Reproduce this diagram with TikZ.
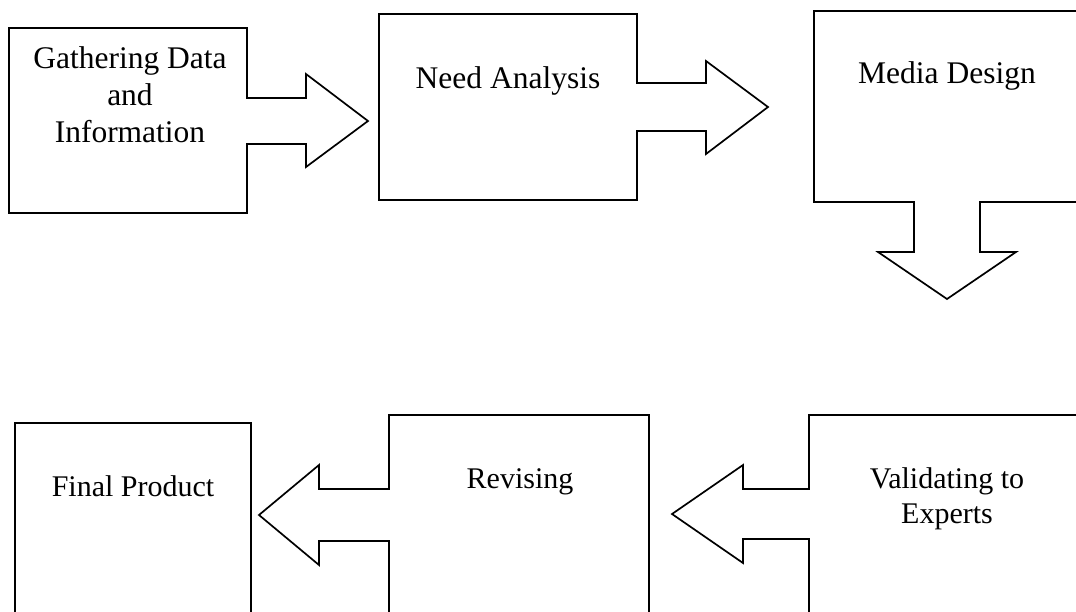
\documentclass[tikz,border=0pt]{standalone}
\usepackage{fontspec}
\setmainfont{Liberation Serif}
\begin{document}
\begin{tikzpicture}[x=1pt,y=-1pt,
  shapeline/.style={draw=black,line width=1.7pt,line join=miter},
  toptext/.style={font=\fontsize{31.5}{37}\selectfont,align=center,inner sep=0pt,anchor=base},
  bottext/.style={font=\fontsize{30}{35}\selectfont,align=center,inner sep=0pt,anchor=base}]
\useasboundingbox (0,0) rectangle (1076,611);
\clip (0,0) rectangle (1076,611);
% Gathering Data and Information (right arrow callout)
\draw[shapeline] (9,28) -- (247,28) -- (247,98) -- (306,98) -- (306,74) -- (368,121)
  -- (306,167) -- (306,144) -- (247,144) -- (247,213) -- (9,213) -- cycle;
% Need Analysis (right arrow callout)
\draw[shapeline] (379,14) -- (637,14) -- (637,83) -- (706,83) -- (706,61) -- (768,107)
  -- (706,154) -- (706,131) -- (637,131) -- (637,200) -- (379,200) -- cycle;
% Media Design (down arrow callout)
\draw[shapeline] (814,11) -- (1085,11) -- (1085,202) -- (980,202) -- (980,252) -- (1016,252)
  -- (947,299) -- (878,252) -- (914,252) -- (914,202) -- (814,202) -- cycle;
% Final Product
\draw[shapeline] (15,625) -- (15,423) -- (251,423) -- (251,625);
% Revising (left arrow callout)
\draw[shapeline] (389,625) -- (389,541) -- (319,541) -- (319,565) -- (259,515) -- (319,465)
  -- (319,489) -- (389,489) -- (389,415) -- (649,415) -- (649,625);
% Validating to Experts (left arrow callout)
\draw[shapeline] (809,625) -- (809,539) -- (743,539) -- (743,563) -- (672,514) -- (743,465)
  -- (743,489) -- (809,489) -- (809,415) -- (1085,415) -- (1085,625);
% texts (base anchor = baseline of last line)
\node[toptext] (gather) at (130,142) {Gathering Data\\and\\Information};
\node[toptext] (need) at (508,88) {Need Analysis};
\node[toptext] (media) at (947,83) {Media Design};
\node[bottext] (final) at (133,496) {Final Product};
\node[bottext] (revise) at (520,488) {Revising};
\node[bottext] (valid) at (947,523) {Validating to\\Experts};
\end{tikzpicture}
\end{document}
